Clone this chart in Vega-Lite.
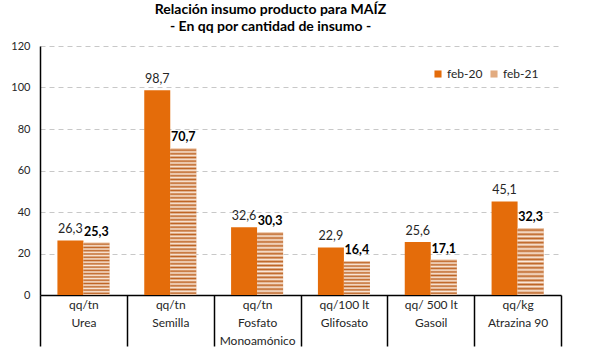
{
  "$schema": "https://vega.github.io/schema/vega-lite/v6.json",
  "width": 521,
  "height": 249,
  "padding": {"left": 10, "top": 3, "right": 5, "bottom": 5},
  "background": "white",
  "config": {
    "font": "Lato",
    "view": {"stroke": null},
    "locale": {"number": {"decimal": ",", "thousands": ".", "grouping": [3], "currency": ["$", ""]}}
  },
  "title": {
    "text": "Relación insumo producto para MAÍZ",
    "subtitle": "- En qq por cantidad de insumo -",
    "font": "Lato",
    "fontSize": 14,
    "fontWeight": "bold",
    "color": "black",
    "subtitleFont": "Lato",
    "subtitleFontSize": 14,
    "subtitleFontWeight": "bold",
    "subtitleColor": "black",
    "subtitlePadding": 3,
    "anchor": "middle",
    "dx": -30,
    "offset": 6
  },
  "data": {
    "values": [
      {"categoria": "qq/tn|Urea", "serie": "feb-20", "valor": 26.3},
      {"categoria": "qq/tn|Urea", "serie": "feb-21", "valor": 25.3},
      {"categoria": "qq/tn|Semilla", "serie": "feb-20", "valor": 98.7},
      {"categoria": "qq/tn|Semilla", "serie": "feb-21", "valor": 70.7},
      {"categoria": "qq/tn|Fosfato|Monoamónico", "serie": "feb-20", "valor": 32.6},
      {"categoria": "qq/tn|Fosfato|Monoamónico", "serie": "feb-21", "valor": 30.3},
      {"categoria": "qq/100 lt|Glifosato", "serie": "feb-20", "valor": 22.9},
      {"categoria": "qq/100 lt|Glifosato", "serie": "feb-21", "valor": 16.4},
      {"categoria": "qq/ 500 lt|Gasoil", "serie": "feb-20", "valor": 25.6},
      {"categoria": "qq/ 500 lt|Gasoil", "serie": "feb-21", "valor": 17.1},
      {"categoria": "qq/kg|Atrazina 90", "serie": "feb-20", "valor": 45.1},
      {"categoria": "qq/kg|Atrazina 90", "serie": "feb-21", "valor": 32.3}
    ]
  },
  "encoding": {
    "x": {
      "field": "categoria",
      "type": "nominal",
      "scale": {
        "domain": ["qq/tn|Urea", "qq/tn|Semilla", "qq/tn|Fosfato|Monoamónico", "qq/100 lt|Glifosato", "qq/ 500 lt|Gasoil", "qq/kg|Atrazina 90"],
        "paddingInner": 0,
        "paddingOuter": 0
      },
      "axis": {
        "title": null,
        "labelAngle": 0,
        "labelExpr": "isString(datum.value) ? split(datum.value, '|') : ''",
        "labelFont": "Lato",
        "labelFontSize": 12,
        "labelColor": "#262626",
        "labelBaseline": "top",
        "labelLineHeight": 18,
        "labelPadding": -47,
        "tickBand": "extent",
        "tickSize": 51,
        "tickColor": "black",
        "tickWidth": 1.5,
        "domainColor": "black",
        "domainWidth": 1.5,
        "grid": false
      }
    },
    "xOffset": {
      "field": "serie",
      "type": "nominal",
      "scale": {"domain": ["feb-20", "feb-21"], "paddingInner": 0, "paddingOuter": 0.67}
    },
    "y": {
      "field": "valor",
      "type": "quantitative",
      "scale": {"domain": [0, 120], "nice": false},
      "axis": {
        "title": null,
        "values": [0, 20, 40, 60, 80, 100, 120],
        "labelFont": "Lato",
        "labelFontSize": 11,
        "labelColor": "#262626",
        "labelPadding": 10,
        "ticks": false,
        "domainColor": "black",
        "domainWidth": 1.5,
        "grid": true,
        "gridColor": "#C8C8C8",
        "gridDash": [5, 4],
        "gridWidth": 1
      }
    }
  },
  "layer": [
    {
      "mark": {"type": "bar"},
      "encoding": {
        "color": {
          "field": "serie",
          "type": "nominal",
          "scale": {"domain": ["feb-20", "feb-21"], "range": ["#E46C0A", "#E2AB80"]},
          "legend": {
            "title": null,
            "orient": "top-right",
            "offset": 22,
            "direction": "horizontal",
            "symbolType": "square",
            "symbolSize": 50,
            "symbolStrokeWidth": 0,
            "labelFont": "Lato",
            "labelFontSize": 12,
            "labelColor": "#262626",
            "labelOffset": 3,
            "columnPadding": 5,
            "encode": {
              "symbols": {
                "update": {
                  "fill": [
                    {
                      "test": "datum.value === 'feb-21'",
                      "value": {
                        "gradient": "linear", "x1": 0, "y1": 0, "x2": 0, "y2": 1,
                        "stops": [
                          {"offset": 0, "color": "#FCEBDD"},
                          {"offset": 0.1667, "color": "#BE6424"},
                          {"offset": 0.3333, "color": "#FCEBDD"},
                          {"offset": 0.5, "color": "#BE6424"},
                          {"offset": 0.6667, "color": "#FCEBDD"},
                          {"offset": 0.8333, "color": "#BE6424"},
                          {"offset": 1, "color": "#FCEBDD"}
                        ]
                      }
                    },
                    {"value": "#E46C0A"}
                  ]
                }
              }
            }
          }
        }
      }
    },
    {
      "transform": [{"filter": "datum.serie === 'feb-21' && datum.categoria === 'qq/tn|Semilla'"}],
      "mark": {
        "type": "bar",
        "fill": {
          "gradient": "linear", "x1": 0, "y1": 0, "x2": 0, "y2": 1,
          "stops": [
            {"offset": 0, "color": "#FCEBDD"}, {"offset": 0.0125, "color": "#BE6424"},
            {"offset": 0.025, "color": "#FCEBDD"}, {"offset": 0.0375, "color": "#BE6424"},
            {"offset": 0.05, "color": "#FCEBDD"}, {"offset": 0.0625, "color": "#BE6424"},
            {"offset": 0.075, "color": "#FCEBDD"}, {"offset": 0.0875, "color": "#BE6424"},
            {"offset": 0.1, "color": "#FCEBDD"}, {"offset": 0.1125, "color": "#BE6424"},
            {"offset": 0.125, "color": "#FCEBDD"}, {"offset": 0.1375, "color": "#BE6424"},
            {"offset": 0.15, "color": "#FCEBDD"}, {"offset": 0.1625, "color": "#BE6424"},
            {"offset": 0.175, "color": "#FCEBDD"}, {"offset": 0.1875, "color": "#BE6424"},
            {"offset": 0.2, "color": "#FCEBDD"}, {"offset": 0.2125, "color": "#BE6424"},
            {"offset": 0.225, "color": "#FCEBDD"}, {"offset": 0.2375, "color": "#BE6424"},
            {"offset": 0.25, "color": "#FCEBDD"}, {"offset": 0.2625, "color": "#BE6424"},
            {"offset": 0.275, "color": "#FCEBDD"}, {"offset": 0.2875, "color": "#BE6424"},
            {"offset": 0.3, "color": "#FCEBDD"}, {"offset": 0.3125, "color": "#BE6424"},
            {"offset": 0.325, "color": "#FCEBDD"}, {"offset": 0.3375, "color": "#BE6424"},
            {"offset": 0.35, "color": "#FCEBDD"}, {"offset": 0.3625, "color": "#BE6424"},
            {"offset": 0.375, "color": "#FCEBDD"}, {"offset": 0.3875, "color": "#BE6424"},
            {"offset": 0.4, "color": "#FCEBDD"}, {"offset": 0.4125, "color": "#BE6424"},
            {"offset": 0.425, "color": "#FCEBDD"}, {"offset": 0.4375, "color": "#BE6424"},
            {"offset": 0.45, "color": "#FCEBDD"}, {"offset": 0.4625, "color": "#BE6424"},
            {"offset": 0.475, "color": "#FCEBDD"}, {"offset": 0.4875, "color": "#BE6424"},
            {"offset": 0.5, "color": "#FCEBDD"}, {"offset": 0.5125, "color": "#BE6424"},
            {"offset": 0.525, "color": "#FCEBDD"}, {"offset": 0.5375, "color": "#BE6424"},
            {"offset": 0.55, "color": "#FCEBDD"}, {"offset": 0.5625, "color": "#BE6424"},
            {"offset": 0.575, "color": "#FCEBDD"}, {"offset": 0.5875, "color": "#BE6424"},
            {"offset": 0.6, "color": "#FCEBDD"}, {"offset": 0.6125, "color": "#BE6424"},
            {"offset": 0.625, "color": "#FCEBDD"}, {"offset": 0.6375, "color": "#BE6424"},
            {"offset": 0.65, "color": "#FCEBDD"}, {"offset": 0.6625, "color": "#BE6424"},
            {"offset": 0.675, "color": "#FCEBDD"}, {"offset": 0.6875, "color": "#BE6424"},
            {"offset": 0.7, "color": "#FCEBDD"}, {"offset": 0.7125, "color": "#BE6424"},
            {"offset": 0.725, "color": "#FCEBDD"}, {"offset": 0.7375, "color": "#BE6424"},
            {"offset": 0.75, "color": "#FCEBDD"}, {"offset": 0.7625, "color": "#BE6424"},
            {"offset": 0.775, "color": "#FCEBDD"}, {"offset": 0.7875, "color": "#BE6424"},
            {"offset": 0.8, "color": "#FCEBDD"}, {"offset": 0.8125, "color": "#BE6424"},
            {"offset": 0.825, "color": "#FCEBDD"}, {"offset": 0.8375, "color": "#BE6424"},
            {"offset": 0.85, "color": "#FCEBDD"}, {"offset": 0.8625, "color": "#BE6424"},
            {"offset": 0.875, "color": "#FCEBDD"}, {"offset": 0.8875, "color": "#BE6424"},
            {"offset": 0.9, "color": "#FCEBDD"}, {"offset": 0.9125, "color": "#BE6424"},
            {"offset": 0.925, "color": "#FCEBDD"}, {"offset": 0.9375, "color": "#BE6424"},
            {"offset": 0.95, "color": "#FCEBDD"}, {"offset": 0.9625, "color": "#BE6424"},
            {"offset": 0.975, "color": "#FCEBDD"}, {"offset": 0.9875, "color": "#BE6424"},
            {"offset": 1, "color": "#FCEBDD"}
          ]
        }
      },
      "encoding": {}
    },
    {
      "transform": [{"filter": "datum.serie === 'feb-21' && (datum.categoria === 'qq/tn|Urea' || datum.categoria === 'qq/tn|Fosfato|Monoamónico' || datum.categoria === 'qq/kg|Atrazina 90')"}],
      "mark": {
        "type": "bar",
        "fill": {
          "gradient": "linear", "x1": 0, "y1": 0, "x2": 0, "y2": 1,
          "stops": [
            {"offset": 0, "color": "#FCEBDD"}, {"offset": 0.03125, "color": "#BE6424"},
            {"offset": 0.0625, "color": "#FCEBDD"}, {"offset": 0.09375, "color": "#BE6424"},
            {"offset": 0.125, "color": "#FCEBDD"}, {"offset": 0.15625, "color": "#BE6424"},
            {"offset": 0.1875, "color": "#FCEBDD"}, {"offset": 0.21875, "color": "#BE6424"},
            {"offset": 0.25, "color": "#FCEBDD"}, {"offset": 0.28125, "color": "#BE6424"},
            {"offset": 0.3125, "color": "#FCEBDD"}, {"offset": 0.34375, "color": "#BE6424"},
            {"offset": 0.375, "color": "#FCEBDD"}, {"offset": 0.40625, "color": "#BE6424"},
            {"offset": 0.4375, "color": "#FCEBDD"}, {"offset": 0.46875, "color": "#BE6424"},
            {"offset": 0.5, "color": "#FCEBDD"}, {"offset": 0.53125, "color": "#BE6424"},
            {"offset": 0.5625, "color": "#FCEBDD"}, {"offset": 0.59375, "color": "#BE6424"},
            {"offset": 0.625, "color": "#FCEBDD"}, {"offset": 0.65625, "color": "#BE6424"},
            {"offset": 0.6875, "color": "#FCEBDD"}, {"offset": 0.71875, "color": "#BE6424"},
            {"offset": 0.75, "color": "#FCEBDD"}, {"offset": 0.78125, "color": "#BE6424"},
            {"offset": 0.8125, "color": "#FCEBDD"}, {"offset": 0.84375, "color": "#BE6424"},
            {"offset": 0.875, "color": "#FCEBDD"}, {"offset": 0.90625, "color": "#BE6424"},
            {"offset": 0.9375, "color": "#FCEBDD"}, {"offset": 0.96875, "color": "#BE6424"},
            {"offset": 1, "color": "#FCEBDD"}
          ]
        }
      },
      "encoding": {}
    },
    {
      "transform": [{"filter": "datum.serie === 'feb-21' && (datum.categoria === 'qq/100 lt|Glifosato' || datum.categoria === 'qq/ 500 lt|Gasoil')"}],
      "mark": {
        "type": "bar",
        "fill": {
          "gradient": "linear", "x1": 0, "y1": 0, "x2": 0, "y2": 1,
          "stops": [
            {"offset": 0, "color": "#FCEBDD"}, {"offset": 0.05, "color": "#BE6424"},
            {"offset": 0.1, "color": "#FCEBDD"}, {"offset": 0.15, "color": "#BE6424"},
            {"offset": 0.2, "color": "#FCEBDD"}, {"offset": 0.25, "color": "#BE6424"},
            {"offset": 0.3, "color": "#FCEBDD"}, {"offset": 0.35, "color": "#BE6424"},
            {"offset": 0.4, "color": "#FCEBDD"}, {"offset": 0.45, "color": "#BE6424"},
            {"offset": 0.5, "color": "#FCEBDD"}, {"offset": 0.55, "color": "#BE6424"},
            {"offset": 0.6, "color": "#FCEBDD"}, {"offset": 0.65, "color": "#BE6424"},
            {"offset": 0.7, "color": "#FCEBDD"}, {"offset": 0.75, "color": "#BE6424"},
            {"offset": 0.8, "color": "#FCEBDD"}, {"offset": 0.85, "color": "#BE6424"},
            {"offset": 0.9, "color": "#FCEBDD"}, {"offset": 0.95, "color": "#BE6424"},
            {"offset": 1, "color": "#FCEBDD"}
          ]
        }
      },
      "encoding": {}
    },
    {
      "transform": [{"filter": "datum.serie === 'feb-20'"}],
      "mark": {"type": "text", "baseline": "alphabetic", "dy": -7, "fontSize": 12.5, "font": "Lato", "color": "#262626"},
      "encoding": {"text": {"field": "valor", "type": "quantitative", "format": ".1f"}}
    },
    {
      "transform": [{"filter": "datum.serie === 'feb-21'"}],
      "mark": {"type": "text", "baseline": "alphabetic", "dy": -7, "fontSize": 12.5, "font": "Lato", "fontWeight": "bold", "color": "black"},
      "encoding": {"text": {"field": "valor", "type": "quantitative", "format": ".1f"}}
    }
  ]
}
